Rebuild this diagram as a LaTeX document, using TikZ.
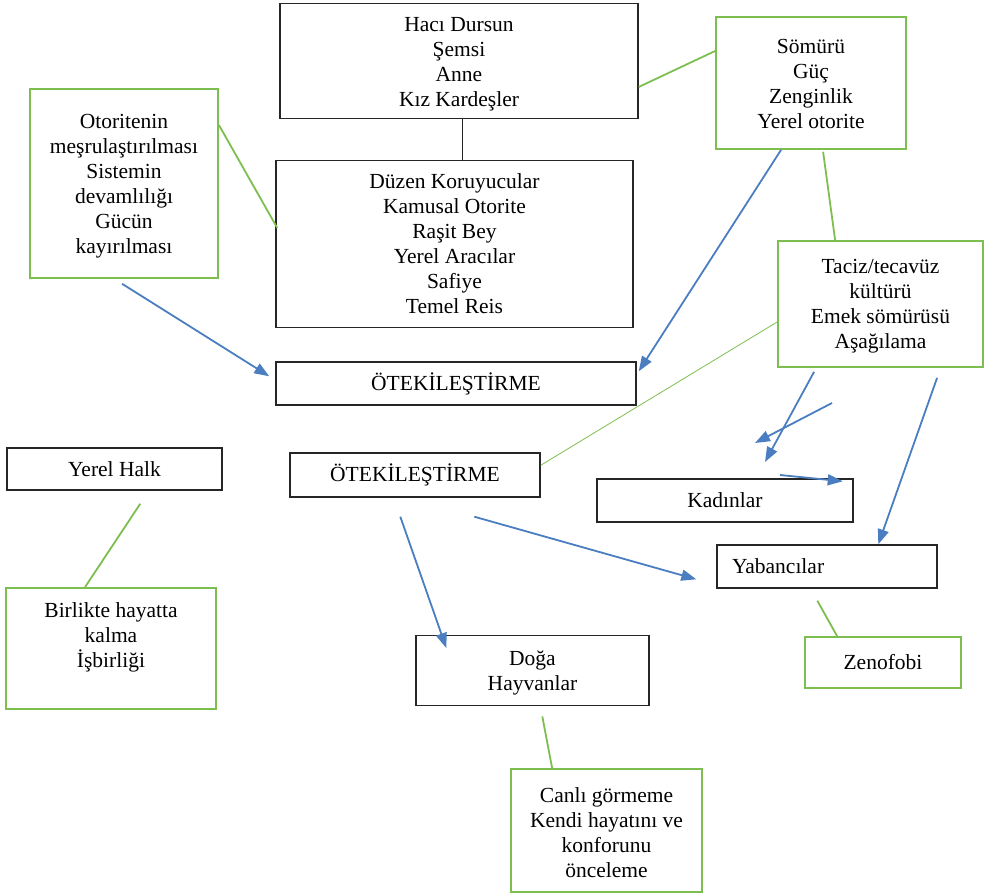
\documentclass[tikz,border=0pt]{standalone}
\usepackage{fontspec}
\setmainfont{Liberation Serif}
\usetikzlibrary{arrows.meta}
\usetikzlibrary{calc}

\definecolor{okmavi}{RGB}{74,126,193}
\definecolor{bagyesil}{RGB}{125,190,80}

\begin{document}
\begin{tikzpicture}[x=1pt,y=-1pt,
  kutu/.style={draw=black!85,line width=1.4pt,align=center,inner sep=0pt,font=\fontsize{21.5}{25}\selectfont},
  yesilkutu/.style={kutu,draw=bagyesil,line width=1.8pt},
  ok/.style={draw=okmavi,line width=1.8pt,-{Triangle[length=15pt,width=11pt]}},
  bag/.style={draw=bagyesil,line width=1.8pt}]

\useasboundingbox (0,0) rectangle (987,893);

% kutular
\node[kutu,minimum width=358,text height=103pt,text depth=12pt,anchor=north] (haci) at (459,3) {Hacı Dursun\\Şemsi\\Anne\\Kız Kardeşler};
\node[kutu,minimum width=357,text height=153pt,text depth=14pt,anchor=north] (duzen) at (454.5,160) {Düzen Koruyucular\\Kamusal Otorite\\Raşit Bey\\Yerel Aracılar\\Safiye\\Temel Reis};
\node[yesilkutu,minimum width=188,text height=165pt,text depth=24pt,anchor=north] (otorite) at (124,88) {Otoritenin\\meşrulaştırılması\\Sistemin\\devamlılığı\\Gücün\\kayırılması};
\node[yesilkutu,minimum width=190,text height=112pt,text depth=20pt,anchor=north] (somuru) at (811,16) {Sömürü\\Güç\\Zenginlik\\Yerel otorite};
\node[yesilkutu,minimum width=205,text height=108pt,text depth=18pt,anchor=north] (taciz) at (880.5,240) {Taciz/tecavüz\\kültürü\\Emek sömürüsü\\Aşağılama};
\node[kutu,minimum width=360,minimum height=43] (oteki1) at (456,383.5) {ÖTEKİLEŞTİRME};
\node[kutu,minimum width=250,minimum height=44] (oteki2) at (415,475) {ÖTEKİLEŞTİRME};
\node[kutu,minimum width=215,minimum height=42] (yerel) at (114.5,469) {Yerel Halk};
\node[yesilkutu,minimum width=210,text height=80pt,text depth=41pt,anchor=north] (birlikte) at (111,587) {Birlikte hayatta\\kalma\\İşbirliği};
\node[kutu,minimum width=256,minimum height=43] (kadin) at (725,500.5) {Kadınlar};
\node[kutu,align=left,text width=190,inner xsep=15pt,minimum height=43] (yabanci) at (827,566.5) {Yabancılar};
\node[yesilkutu,minimum width=156,minimum height=51] (zeno) at (883,662.5) {Zenofobi};
\node[kutu,minimum width=233,text height=55pt,text depth=15pt,anchor=north] (doga) at (532.5,635) {Doğa\\Hayvanlar};
\node[yesilkutu,minimum width=191,text height=109pt,text depth=14pt,anchor=north] (canli) at (606.5,768) {Canlı görmeme\\Kendi hayatını ve\\konforunu\\önceleme};

% baglar
\draw[black!85,line width=1.2pt] ($(haci.south west)+(183,0)$) -- ($(duzen.north west)+(187,0)$);
\draw[bag] ($(otorite.north east)+(0,37)$) -- ($(duzen.north west)+(2,68)$);
\draw[bag] ($(haci.north east)+(0,84)$) -- ($(somuru.north west)+(0,35)$);
\draw[bag] ($(somuru.south west)+(108,2)$) -- ($(taciz.north west)+(58,0)$);
\draw[bagyesil,line width=0.8pt] ($(taciz.north west)+(0,82)$) -- ($(oteki2.north east)+(0,13)$);
\draw[bag] ($(yerel.south west)+(134,13)$) -- ($(birlikte.north west)+(80,0)$);
\draw[bag] ($(yabanci.south west)+(101,12)$) -- ($(zeno.north west)+(33,0)$);
\draw[bag] ($(doga.south west)+(127,10)$) -- ($(canli.north west)+(42,0)$);

% oklar
\coordinate (b3uc) at (765,462);
\coordinate (b4bas) at (832,403);
\coordinate (b4uc) at (755,443);
\coordinate (b5bas) at (780,475);

\draw[ok] ($(otorite.south west)+(93,5)$) -- ($(oteki1.north west)+(-6,15)$);
\draw[ok] ($(somuru.south west)+(66,0)$) -- ($(oteki1.north east)+(2,10)$);
\draw[ok] ($(taciz.south west)+(37,4)$) -- (b3uc);
\draw[ok] (b4bas) -- (b4uc);
\draw[ok] (b5bas) -- ($(kadin.north east)+(-11,3)$);
\draw[ok] ($(taciz.south west)+(160,10)$) -- ($(yabanci.north west)+(162,0)$);
\draw[ok] ($(oteki2.south west)+(185,19)$) -- ($(yabanci.north west)+(-20,35)$);
\draw[ok] ($(oteki2.south west)+(111,19)$) -- ($(doga.north west)+(31,13)$);

\end{tikzpicture}
\end{document}
